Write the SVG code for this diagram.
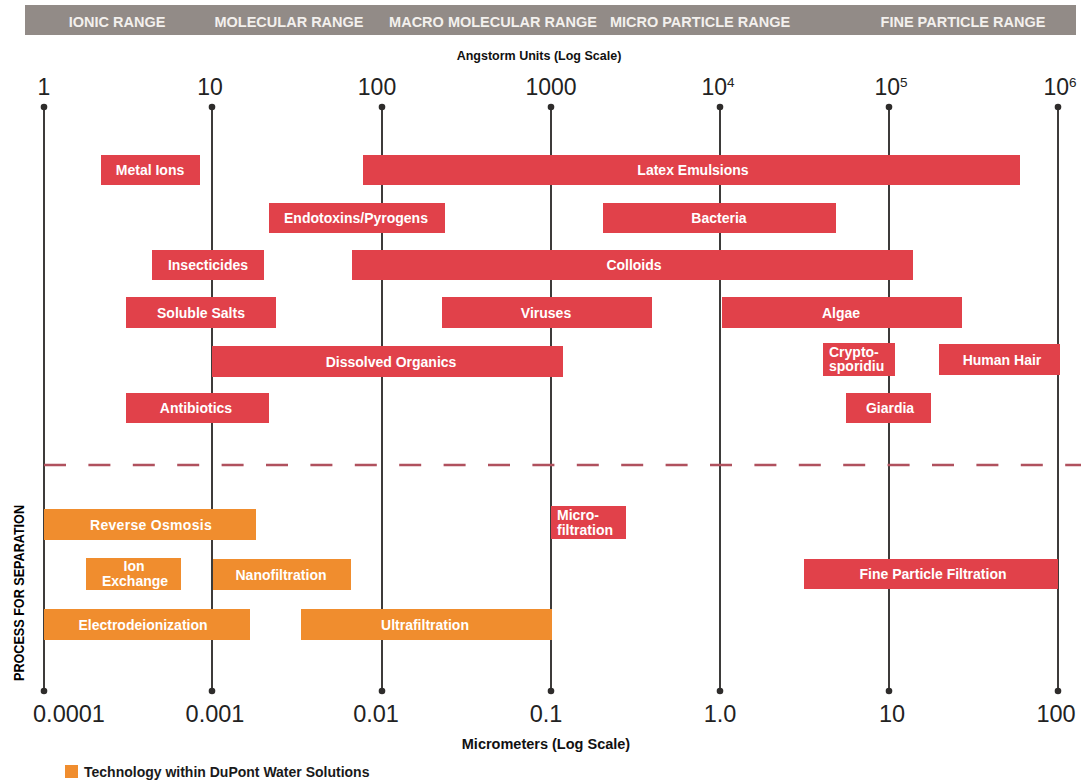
<svg xmlns="http://www.w3.org/2000/svg" width="1081" height="781" viewBox="0 0 1081 781">
<style>
.hdr{font-family:"Liberation Sans",Arial,sans-serif;font-weight:bold;font-size:14.5px;fill:#f3f0ed;text-anchor:middle}
.ax{font-family:"Liberation Sans",Arial,sans-serif;font-size:23px;fill:#222;text-anchor:middle}
.axb{font-family:"Liberation Sans",Arial,sans-serif;font-size:23.5px;fill:#222;text-anchor:middle}
.cap{font-family:"Liberation Sans",Arial,sans-serif;font-weight:bold;fill:#111;text-anchor:middle}
.red{fill:#e1414a}
.org{fill:#f08d2e}
.lbl{font-family:"Liberation Sans",Arial,sans-serif;font-weight:bold;font-size:14px;fill:#fff;text-anchor:middle}
.lbll{font-family:"Liberation Sans",Arial,sans-serif;font-weight:bold;font-size:14px;fill:#fff}
.vl{stroke:#3d3b3a;stroke-width:2}
.dot{fill:#2e2c2b}
</style>
<rect x="25" y="5" width="1051" height="30" fill="#928b87"/>
<text class="hdr" x="117" y="27">IONIC RANGE</text>
<text class="hdr" x="289" y="27">MOLECULAR RANGE</text>
<text class="hdr" x="493" y="27">MACRO MOLECULAR RANGE</text>
<text class="hdr" x="700" y="27">MICRO PARTICLE RANGE</text>
<text class="hdr" x="963" y="27">FINE PARTICLE RANGE</text>
<text class="cap" x="539" y="60" font-size="12.5">Angstorm Units (Log Scale)</text>
<g id="top-labels">
<text class="ax" x="44" y="95">1</text>
<text class="ax" x="210" y="95">10</text>
<text class="ax" x="377" y="95">100</text>
<text class="ax" x="551" y="95">1000</text>
<text class="ax" x="718" y="95">10<tspan font-size="13.5" dy="-8">4</tspan></text>
<text class="ax" x="891" y="95">10<tspan font-size="13.5" dy="-8">5</tspan></text>
<text class="ax" x="1060" y="95">10<tspan font-size="13.5" dy="-8">6</tspan></text>
</g>
<g id="connectors">
<line class="vl" x1="44" y1="107" x2="44" y2="691"/>
<line class="vl" x1="212" y1="107" x2="212" y2="691"/>
<line class="vl" x1="382" y1="107" x2="382" y2="691"/>
<line class="vl" x1="551" y1="107" x2="551" y2="691"/>
<line class="vl" x1="720" y1="107" x2="720" y2="691"/>
<line class="vl" x1="889" y1="107" x2="889" y2="691"/>
<line class="vl" x1="1058" y1="107" x2="1058" y2="691"/>
<circle class="dot" cx="44" cy="107" r="3.3"/>
<circle class="dot" cx="212" cy="107" r="3.3"/>
<circle class="dot" cx="382" cy="107" r="3.3"/>
<circle class="dot" cx="551" cy="107" r="3.3"/>
<circle class="dot" cx="720" cy="107" r="3.3"/>
<circle class="dot" cx="889" cy="107" r="3.3"/>
<circle class="dot" cx="1058" cy="107" r="3.3"/>
<circle class="dot" cx="44" cy="691" r="3.3"/>
<circle class="dot" cx="212" cy="691" r="3.3"/>
<circle class="dot" cx="382" cy="691" r="3.3"/>
<circle class="dot" cx="551" cy="691" r="3.3"/>
<circle class="dot" cx="720" cy="691" r="3.3"/>
<circle class="dot" cx="889" cy="691" r="3.3"/>
<circle class="dot" cx="1058" cy="691" r="3.3"/>
<line x1="44" y1="465" x2="1081" y2="465" stroke="#b0515e" stroke-width="2.5" stroke-dasharray="22 22.4"/>
</g>
<g id="metal-ions"><rect class="red" x="101" y="155" width="99" height="30"/><text class="lbl" x="150" y="175">Metal Ions</text></g>
<g id="latex-emulsions"><rect class="red" x="363" y="155" width="657" height="30"/><text class="lbl" x="693" y="175">Latex Emulsions</text></g>
<g id="endotoxins"><rect class="red" x="269" y="203" width="176" height="30"/><text class="lbl" x="356" y="223">Endotoxins/Pyrogens</text></g>
<g id="bacteria"><rect class="red" x="603" y="203" width="233" height="30"/><text class="lbl" x="719" y="223">Bacteria</text></g>
<g id="insecticides"><rect class="red" x="152" y="250" width="112" height="30"/><text class="lbl" x="208" y="270">Insecticides</text></g>
<g id="colloids"><rect class="red" x="352" y="250" width="561" height="30"/><text class="lbl" x="634" y="270">Colloids</text></g>
<g id="soluble-salts"><rect class="red" x="126" y="297" width="150" height="31"/><text class="lbl" x="201" y="317.5">Soluble Salts</text></g>
<g id="viruses"><rect class="red" x="442" y="297" width="210" height="31"/><text class="lbl" x="546" y="317.5">Viruses</text></g>
<g id="algae"><rect class="red" x="722" y="297" width="240" height="31"/><text class="lbl" x="841" y="317.5">Algae</text></g>
<g id="dissolved-organics"><rect class="red" x="212" y="346" width="351" height="31"/><text class="lbl" x="391" y="366.5">Dissolved Organics</text></g>
<g id="cryptosporidium"><rect class="red" x="823" y="343" width="72" height="33"/><text class="lbll" x="829" y="356.5">Crypto-</text><text class="lbll" x="829" y="371">sporidiu</text></g>
<g id="human-hair"><rect class="red" x="939" y="344" width="121" height="31"/><text class="lbl" x="1002" y="364.5">Human Hair</text></g>
<g id="antibiotics"><rect class="red" x="126" y="393" width="143" height="30"/><text class="lbl" x="196" y="413">Antibiotics</text></g>
<g id="giardia"><rect class="red" x="846" y="393" width="85" height="30"/><text class="lbl" x="890" y="413">Giardia</text></g>
<g id="reverse-osmosis"><rect class="org" x="44" y="509" width="212" height="31"/><text class="lbl" x="151" y="529.5" letter-spacing="0.3">Reverse Osmosis</text></g>
<g id="ion-exchange"><rect class="org" x="86" y="558" width="95" height="32"/><text class="lbl" x="134" y="571">Ion</text><text class="lbl" x="135" y="586">Exchange</text></g>
<g id="nanofiltration"><rect class="org" x="213" y="559" width="138" height="31"/><text class="lbl" x="281" y="579.5">Nanofiltration</text></g>
<g id="electrodeionization"><rect class="org" x="44" y="609" width="206" height="31"/><text class="lbl" x="143" y="629.5">Electrodeionization</text></g>
<g id="ultrafiltration"><rect class="org" x="301" y="609" width="251" height="31"/><text class="lbl" x="425" y="629.5">Ultrafiltration</text></g>
<g id="microfiltration"><rect class="red" x="551" y="506" width="75" height="33"/><text class="lbll" x="557" y="519.5">Micro-</text><text class="lbll" x="557" y="534.5">filtration</text></g>
<g id="fine-particle-filtration"><rect class="red" x="804" y="559" width="254" height="30"/><text class="lbl" x="933" y="579">Fine Particle Filtration</text></g>
<text x="0" y="0" transform="translate(24,593) rotate(-90)" font-family="'Liberation Sans',Arial,sans-serif" font-weight="bold" font-size="14.5" fill="#000" text-anchor="middle" textLength="176" lengthAdjust="spacingAndGlyphs">PROCESS FOR SEPARATION</text>
<g id="bottom-labels">
<text class="axb" x="69" y="722">0.0001</text>
<text class="axb" x="215" y="722">0.001</text>
<text class="axb" x="376" y="722">0.01</text>
<text class="axb" x="546" y="722">0.1</text>
<text class="axb" x="720" y="722">1.0</text>
<text class="axb" x="892" y="722">10</text>
<text class="axb" x="1056" y="722">100</text>
</g>
<text class="cap" x="546" y="749" font-size="14.5">Micrometers (Log Scale)</text>
<g id="legend"><rect class="org" x="65" y="765" width="13" height="13"/><text x="84" y="777" font-family="'Liberation Sans',Arial,sans-serif" font-weight="bold" font-size="14" fill="#1a1a1a">Technology within DuPont Water Solutions</text></g>
</svg>
